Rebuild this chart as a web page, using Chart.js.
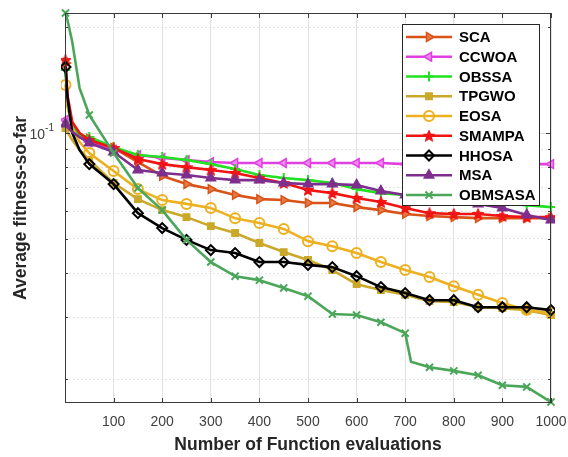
<!DOCTYPE html>
<html><head><meta charset="utf-8">
<script src="https://cdn.jsdelivr.net/npm/chart.js@4/dist/chart.umd.min.js"></script>
<style>html,body{margin:0;padding:0;background:#fff;}</style>
</head><body>
<canvas id="c" width="568" height="457"></canvas>
<script>
// ---------------- data ----------------
const seriesNames = ['SCA','CCWOA','OBSSA','TPGWO','EOSA','SMAMPA','HHOSA','MSA','OBMSASA'];
const evals = [1,5,15,30,50,100,150,200,250,300,350,400,450,500,550,600,650,700,750,800,850,900,950,1000];
const evalsOBMSASA = [1,5,15,30,50,100,150,200,250,300,350,400,450,500,550,600,650,700,712,750,800,850,900,950,1000];

const SCA    = [0.1581,0.1241,0.1054,0.0987,0.0962,0.0907,0.0827,0.0755,0.0716,0.0693,0.0667,0.0649,0.0645,0.0633,0.0633,0.0616,0.0604,0.0589,0.0581,0.0577,0.0573,0.0573,0.0573,0.0573];
const CCWOA  = [0.1089,0.1054,0.1013,0.0974,0.0943,0.0895,0.0866,0.0849,0.0838,0.0827,0.0822,0.0822,0.0822,0.0822,0.0822,0.0822,0.0822,0.0816,0.0816,0.0816,0.0816,0.0816,0.0816,0.0816];
const OBSSA  = [0.1510,0.1201,0.1040,0.0987,0.0974,0.0912,0.0866,0.0855,0.0838,0.0816,0.0790,0.0760,0.0745,0.0735,0.0721,0.0693,0.0675,0.0667,0.0658,0.0649,0.0641,0.0633,0.0624,0.0616];
const TPGWO  = [0.1033,0.1007,0.0955,0.0895,0.0838,0.0721,0.0649,0.0604,0.0577,0.0544,0.0520,0.0487,0.0459,0.0436,0.0408,0.0372,0.0358,0.0347,0.0333,0.0331,0.0320,0.0318,0.0314,0.0304];
const EOSA   = [0.1369,0.1201,0.1033,0.0943,0.0877,0.0780,0.0693,0.0645,0.0629,0.0612,0.0573,0.0555,0.0534,0.0493,0.0477,0.0456,0.0430,0.0408,0.0390,0.0367,0.0347,0.0329,0.0314,0.0308];
const SMAMPA = [0.1612,0.1282,0.1075,0.1000,0.0955,0.0907,0.0844,0.0816,0.0800,0.0785,0.0770,0.0745,0.0721,0.0689,0.0675,0.0654,0.0637,0.0612,0.0592,0.0589,0.0589,0.0581,0.0577,0.0577];
const HHOSA  = [0.1540,0.1266,0.1000,0.0895,0.0816,0.0716,0.0592,0.0537,0.0497,0.0465,0.0456,0.0430,0.0430,0.0422,0.0416,0.0392,0.0365,0.0351,0.0335,0.0335,0.0320,0.0320,0.0320,0.0314];
const MSA    = [0.1061,0.1040,0.1007,0.0974,0.0937,0.0883,0.0785,0.0770,0.0760,0.0745,0.0735,0.0735,0.0721,0.0716,0.0716,0.0712,0.0684,0.0667,0.0654,0.0641,0.0629,0.0612,0.0585,0.0566];
const OBMSASA= [0.2193,0.2094,0.1813,0.1342,0.1125,0.0877,0.0698,0.0604,0.0497,0.0430,0.0392,0.0382,0.0363,0.0344,0.0306,0.0304,0.0290,0.0270,0.0224,0.0216,0.0211,0.0205,0.0192,0.0190,0.0172];

const xTickValues = [100,200,300,400,500,600,700,800,900,1000];
const yTickValues = [0.02,0.03,0.04,0.05,0.06,0.07,0.08,0.09,0.1,0.2];
const yMajorTick = 0.1;
const yMajorLabelBase = '10';
const yMajorLabelExp = '-1';
const xLimits = [0, 1000];
const yLimits = [0.0171, 0.2193];

// ---------------- styles ----------------
const FONT = "'Liberation Sans', Arial, Helvetica, sans-serif";

function makeStar(color, size){
  const c = document.createElement('canvas');
  c.width = size; c.height = size;
  const g = c.getContext('2d');
  const cx = size/2, cy = size/2 + 0.5, R = size/2, r = R*0.45;
  g.beginPath();
  for (let i=0;i<10;i++){
    const ang = -Math.PI/2 + i*Math.PI/5;
    const rr = i%2===0 ? R : r;
    const px = cx + rr*Math.cos(ang), py = cy + rr*Math.sin(ang);
    if(i===0) g.moveTo(px,py); else g.lineTo(px,py);
  }
  g.closePath();
  g.fillStyle = color; g.fill();
  g.strokeStyle = color; g.lineWidth = 1; g.stroke();
  return c;
}

const styles = [
  {color:'#D95319', style:'triangle', rot:90,  fill:'#E57A45', r:5,  bw:1.5},
  {color:'#E040E0', style:'triangle', rot:-90, fill:'#EE88EE', r:5,  bw:1.5},
  {color:'#22E022', style:'cross',    rot:0,   fill:'#22E022', r:5,  bw:2},
  {color:'#C9A82A', style:'rect',     rot:0,   fill:'#C9A82A', r:4.5,bw:1.5},
  {color:'#EDB120', style:'circle',   rot:0,   fill:'rgba(255,255,255,0)', r:5, bw:2},
  {color:'#F01414', style:makeStar('#F01414',12), rot:0, fill:'#F01414', r:6, bw:1},
  {color:'#000000', style:'rectRot',  rot:0,   fill:'rgba(255,255,255,0)', r:5, bw:2},
  {color:'#7E2F8E', style:'triangle', rot:0,   fill:'#7E2F8E', r:5.5,bw:1.5},
  {color:'#4BA65A', style:'crossRot', rot:0,   fill:'#4BA65A', r:5,  bw:2}
];

const seriesValues = [SCA,CCWOA,OBSSA,TPGWO,EOSA,SMAMPA,HHOSA,MSA,OBMSASA];
const seriesEvals  = [evals,evals,evals,evals,evals,evals,evals,evals,evalsOBMSASA];

const datasets = seriesNames.map((name,i)=>{
  const s = styles[i];
  return {
    label: name,
    data: seriesValues[i].map((v,k)=>({x: seriesEvals[i][k], y: v})),
    borderColor: s.color,
    backgroundColor: s.fill,
    borderWidth: 2.6,
    borderJoinStyle: 'round',
    borderCapStyle: 'round',
    tension: 0,
    pointStyle: s.style,
    pointRotation: s.rot,
    pointBackgroundColor: s.fill,
    pointBorderColor: s.color,
    pointBorderWidth: s.bw,
    pointRadius: (ctx)=>{ const raw = ctx.raw; return (raw && (raw.x===1 || raw.x%50===0)) ? s.r : 0; },
    pointHoverRadius: 0,
    legendRadius: s.r,
    order: seriesNames.length - 1 - i,
    clip: 4
  };
});

// ---------------- plugins ----------------
const boxPlugin = {
  id:'mbox',
  afterDatasetsDraw(chart){
    const {ctx, chartArea:a, scales:{x,y}} = chart;
    ctx.save();
    ctx.strokeStyle = '#3a3a3a';
    ctx.lineWidth = 1;
    ctx.strokeRect(a.left+0.5, a.top+0.5, a.right-a.left-1, a.bottom-a.top-1);
    ctx.beginPath();
    xTickValues.forEach(v=>{
      const px = Math.round(x.getPixelForValue(v))+0.5;
      ctx.moveTo(px, a.bottom); ctx.lineTo(px, a.bottom-5);
      ctx.moveTo(px, a.top); ctx.lineTo(px, a.top+5);
    });
    yTickValues.forEach(v=>{
      const py = Math.round(y.getPixelForValue(v))+0.5;
      const len = v===yMajorTick ? 5 : 3;
      ctx.moveTo(a.left, py); ctx.lineTo(a.left+len, py);
      ctx.moveTo(a.right, py); ctx.lineTo(a.right-len, py);
    });
    ctx.stroke();
    // major y tick label: base with superscript exponent
    const py = y.getPixelForValue(yMajorTick);
    const right = a.left - 11;
    ctx.fillStyle = '#404040';
    ctx.textBaseline = 'middle';
    ctx.textAlign = 'right';
    ctx.font = '10px ' + FONT;
    const expW = ctx.measureText(yMajorLabelExp).width;
    ctx.fillText(yMajorLabelExp, right, py - 5);
    ctx.font = '14px ' + FONT;
    ctx.fillText(yMajorLabelBase, right - expW, py + 2);
    ctx.restore();
  }
};

const legendPlugin = {
  id:'mlegend',
  afterDraw(chart){
    const {ctx, chartArea:a} = chart;
    const x0 = a.right - 149, y0 = a.top + 11, w = 137, h = 181;
    ctx.save();
    ctx.fillStyle = '#ffffff';
    ctx.fillRect(x0, y0, w, h);
    ctx.strokeStyle = '#262626'; ctx.lineWidth = 1;
    ctx.strokeRect(x0+0.5, y0+0.5, w, h);
    chart.data.datasets.forEach((ds,i)=>{
      const cy = y0 + 13 + i*19.75;
      ctx.strokeStyle = ds.borderColor; ctx.lineWidth = ds.borderWidth; ctx.lineCap='butt';
      ctx.beginPath(); ctx.moveTo(x0+4, cy); ctx.lineTo(x0+50, cy); ctx.stroke();
      ctx.fillStyle = ds.pointBackgroundColor; ctx.strokeStyle = ds.pointBorderColor; ctx.lineWidth = ds.pointBorderWidth;
      if (Chart.helpers && Chart.helpers.drawPoint) {
        Chart.helpers.drawPoint(ctx, {pointStyle: ds.pointStyle, rotation: ds.pointRotation||0, radius: ds.legendRadius, borderWidth: ds.pointBorderWidth}, x0+27, cy);
      }
      ctx.fillStyle = '#000'; ctx.font = 'bold 15px ' + FONT;
      ctx.textBaseline = 'middle'; ctx.textAlign = 'left';
      ctx.fillText(ds.label, x0+57, cy+1);
    });
    ctx.restore();
  }
};

new Chart(document.getElementById('c'), {
  type: 'line',
  data: { datasets },
  plugins: [boxPlugin, legendPlugin],
  options: {
    responsive: false,
    animation: false,
    events: [],
    layout: { padding: { top: 13, right: 17, left: 0, bottom: 0 } },
    plugins: { legend: { display: false }, tooltip: { enabled: false } },
    scales: {
      x: {
        type: 'linear',
        min: xLimits[0], max: xLimits[1],
        afterBuildTicks: (s)=>{ s.ticks = xTickValues.map(v=>({value:v})); },
        afterFit: (s)=>{ s.height = 54; s.paddingLeft = 0; s.paddingRight = 0; },
        ticks: { autoSkip:false, maxRotation:0, padding: 11, color:'#404040', font:{family:FONT, size:14}, callback:(v)=>String(v) },
        grid: { color:'#e2e2e2', lineWidth:1, drawTicks:false },
        border: { display:false },
        title: { display:true, text:'Number of Function evaluations', color:'#262626', font:{family:FONT, size:17.5, weight:'bold'}, padding:{top:0,bottom:1.5} }
      },
      y: {
        type: 'logarithmic',
        min: yLimits[0], max: yLimits[1],
        afterBuildTicks: (s)=>{ s.ticks = yTickValues.map(v=>({value:v})); },
        afterFit: (s)=>{ s.width = 65; s.paddingTop = 0; s.paddingBottom = 0; },
        ticks: { autoSkip:false, padding: 12, color:'#404040', font:{family:FONT, size:14}, callback:()=>'' },
        grid: {
          color: (c)=> (c.tick && c.tick.value===yMajorTick) ? '#dadada' : '#e4e4e4',
          lineWidth: 1, drawTicks:false
        },
        border: { display:false, dash: (c)=> (c.tick && c.tick.value===yMajorTick) ? [] : [2,2] },
        title: { display:true, text:'Average fitness-so-far', color:'#262626', font:{family:FONT, size:17.5, weight:'bold'}, padding:{top:10.5,bottom:0} }
      }
    }
  }
});
</script>
</body></html>
